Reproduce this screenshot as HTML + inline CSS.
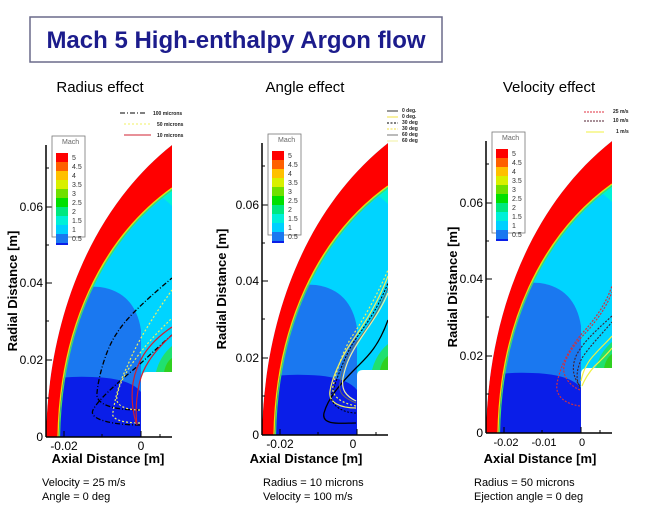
<!DOCTYPE html>
<html><head><meta charset="utf-8"><style>
body{margin:0;background:#fff;width:650px;height:527px;overflow:hidden;font-family:"Liberation Sans",sans-serif}
svg{position:absolute;left:0;top:0}
</style></head><body>
<svg width="650" height="527" viewBox="0 0 650 527" font-family="Liberation Sans, sans-serif">
<defs>
<clipPath id="pc"><rect x="46" y="145" width="126" height="292"/></clipPath>
<g id="field">
 <g clip-path="url(#pc)">
  <rect x="46" y="145" width="126" height="292" fill="#00d4ff"/>
  <path d="M155,192 Q166,200 172,206 L172,183 Z" fill="#00f0d8"/>
  <path d="M50,437 L50,290 Q65,285 100,287 Q135,292 141,330 L141,437 Z" fill="#1a78f0"/>
  <path d="M50,437 L50,380 Q65,376 92,377 Q130,378 141,392 L141,437 Z" fill="#0a1ee8"/>
  <path d="M156,372 Q160,356 172,346 L172,372 Z" fill="#20e070"/>
  <path d="M164,372 Q166,362 172,358 L172,372 Z" fill="#30d020"/>
  <path d="M46,437 C48,320 90,210 172,145 L172,188 C100,240 60,330 58,437 Z" fill="#ff0000"/>
  <path d="M58,437 C60,330 100,240 172,188" fill="none" stroke="#f0e000" stroke-width="1.3"/>
  <path d="M59.5,437 C61.5,331 101,241.5 172,190" fill="none" stroke="#40e060" stroke-width="1.2"/>
  <path d="M46,145 L172,145 C90,210 48,320 46,437 Z" fill="#fff"/>
  <path d="M141,437 L141,378 Q141,372 147,372 L172,372 L172,437 Z" fill="#fff"/>
 </g>
 <line x1="46" y1="145" x2="46" y2="437" stroke="#000" stroke-width="1.5"/>
 <line x1="46" y1="437" x2="172" y2="437" stroke="#000" stroke-width="1.5"/>
 <g stroke="#000" stroke-width="1">
  <line x1="46" y1="360" x2="52" y2="360"/><line x1="46" y1="283" x2="52" y2="283"/><line x1="46" y1="207" x2="52" y2="207"/>
  <line x1="46" y1="398" x2="49" y2="398"/><line x1="46" y1="321" x2="49" y2="321"/><line x1="46" y1="245" x2="49" y2="245"/><line x1="46" y1="168" x2="49" y2="168"/>
  <line x1="64" y1="437" x2="64" y2="431"/><line x1="141" y1="437" x2="141" y2="431"/><line x1="102" y1="437" x2="102" y2="434"/><line x1="160" y1="437" x2="160" y2="434"/>
 </g>
 <rect x="52" y="136" width="33" height="101" fill="#fff" stroke="#777" stroke-width="0.8"/>
 <rect x="56" y="153" width="12" height="9" fill="#ff0000"/>
 <rect x="56" y="162" width="12" height="9" fill="#ff6000"/>
 <rect x="56" y="171" width="12" height="9" fill="#ffc000"/>
 <rect x="56" y="180" width="12" height="9" fill="#d8f000"/>
 <rect x="56" y="189" width="12" height="9" fill="#70e000"/>
 <rect x="56" y="198" width="12" height="9" fill="#00e000"/>
 <rect x="56" y="207" width="12" height="9" fill="#00e880"/>
 <rect x="56" y="216" width="12" height="9" fill="#00f0d8"/>
 <rect x="56" y="225" width="12" height="9" fill="#00d0ff"/>
 <rect x="56" y="234" width="12" height="9" fill="#1a78f0"/>
 <rect x="56" y="243" width="12" height="2" fill="#0a1ee8"/>
</g>
</defs>

<rect x="30" y="17" width="412" height="45" fill="#fff" stroke="#6a6a8a" stroke-width="1.5"/>
<text x="236" y="48" text-anchor="middle" font-size="24" font-weight="bold" fill="#1c1c8c">Mach 5 High-enthalpy Argon flow</text>
<text x="100" y="92" text-anchor="middle" font-size="15">Radius effect</text>
<text x="305" y="92" text-anchor="middle" font-size="15">Angle effect</text>
<text x="549" y="92" text-anchor="middle" font-size="15">Velocity effect</text>

<!-- Panel 1 -->
<g>
 <use href="#field"/>
 <g font-size="7" fill="#333"><text x="62" y="144" fill="#666">Mach</text>
 <text x="72" y="160">5</text><text x="72" y="169">4.5</text><text x="72" y="178">4</text><text x="72" y="187">3.5</text><text x="72" y="196">3</text><text x="72" y="205">2.5</text><text x="72" y="214">2</text><text x="72" y="223">1.5</text><text x="72" y="232">1</text><text x="72" y="241">0.5</text></g>
 <g clip-path="url(#pc)" fill="none">
  <path d="M140,410 C115,410 95,405 97,393 C98,380 105,350 117,333 C125,320 140,305 172,278" stroke="#000" stroke-width="1.3" stroke-dasharray="5,2,1,2"/>
  <path d="M140,425 C115,425 88,420 93,410 C98,400 115,385 133,370 C145,360 160,345 172,335" stroke="#000" stroke-width="1.3" stroke-dasharray="5,2,1,2"/>
  <path d="M140,423 C125,423 110,420 113,412 C115,400 118,385 127,367 C132,355 140,335 172,290" stroke="#f0f060" stroke-width="1.2" stroke-dasharray="2,2"/>
  <path d="M140,410 C125,410 115,405 117,397 C119,385 123,375 140,353 C150,340 160,330 172,318" stroke="#f0f060" stroke-width="1.2" stroke-dasharray="2,2"/>
  <path d="M136,423 C131,405 132,390 133,383 C136,365 145,345 172,327" stroke="#d02030" stroke-width="1.2"/>
  <path d="M137,425 C135,410 137,395 139,385 C142,370 150,355 172,335" stroke="#d02030" stroke-width="1.2"/>
 </g>
 <g font-size="12" fill="#000"><text x="43" y="211" text-anchor="end">0.06</text><text x="43" y="287" text-anchor="end">0.04</text><text x="43" y="364" text-anchor="end">0.02</text><text x="43" y="441" text-anchor="end">0</text>
 <text x="64" y="450" text-anchor="middle">-0.02</text><text x="141" y="450" text-anchor="middle">0</text></g>
 <text x="108" y="463" text-anchor="middle" font-size="13" font-weight="bold">Axial Distance [m]</text>
 <text transform="translate(17,291) rotate(-90)" text-anchor="middle" font-size="13" font-weight="bold">Radial Distance [m]</text>
 <g font-size="5" font-weight="bold" fill="#222">
  <line x1="120" y1="113" x2="147" y2="113" stroke="#000" stroke-dasharray="5,2,1,2"/><text x="153" y="115">100 microns</text>
  <line x1="124" y1="124" x2="151" y2="124" stroke="#f0f060" stroke-dasharray="2,2"/><text x="157" y="126">50 microns</text>
  <line x1="124" y1="135" x2="151" y2="135" stroke="#d02030"/><text x="157" y="137">10 microns</text>
 </g>
 <text x="42" y="486" font-size="11">Velocity = 25 m/s</text>
 <text x="42" y="500" font-size="11">Angle = 0 deg</text>
</g>

<!-- Panel 2 -->
<g transform="translate(216,-2)">
 <use href="#field"/>
 <g font-size="7" fill="#333"><text x="62" y="144" fill="#666">Mach</text>
 <text x="72" y="160">5</text><text x="72" y="169">4.5</text><text x="72" y="178">4</text><text x="72" y="187">3.5</text><text x="72" y="196">3</text><text x="72" y="205">2.5</text><text x="72" y="214">2</text><text x="72" y="223">1.5</text><text x="72" y="232">1</text><text x="72" y="241">0.5</text></g>
 <g clip-path="url(#pc)" fill="none">
  <path d="M140,425 C125,425 105,428 108,415 C112,400 125,385 140,370 C150,360 162,350 172,322" stroke="#000" stroke-width="1.3"/>
  <path d="M140,410 C125,410 112,405 114,393 C116,380 125,360 135,345 C145,330 160,310 172,278" stroke="#f0f060" stroke-width="1.2"/>
  <path d="M140,415 C125,415 112,405 116,395 C120,383 128,360 137,345 C147,330 160,315 172,285" stroke="#000" stroke-width="1" stroke-dasharray="2,1.5"/>
  <path d="M140,408 C125,405 115,398 117,388 C120,375 126,355 135,340 C145,325 160,300 172,272" stroke="#f0f060" stroke-width="1.2" stroke-dasharray="2,2"/>
  <path d="M140,405 C128,400 122,395 124,385 C126,370 132,355 140,345 C150,332 162,315 172,290" stroke="#666" stroke-width="1"/>
  <path d="M140,403 C130,398 125,392 127,380 C130,365 135,355 145,340 C155,325 165,312 172,295" stroke="#f0f0a0" stroke-width="1.2"/>
 </g>
 <g font-size="12" fill="#000"><text x="43" y="211" text-anchor="end">0.06</text><text x="43" y="287" text-anchor="end">0.04</text><text x="43" y="364" text-anchor="end">0.02</text><text x="43" y="441" text-anchor="end">0</text>
 <text x="64" y="450" text-anchor="middle">-0.02</text><text x="137" y="450" text-anchor="middle">0</text></g>
 <text x="90" y="465" text-anchor="middle" font-size="13" font-weight="bold">Axial Distance [m]</text>
 <text transform="translate(10,291) rotate(-90)" text-anchor="middle" font-size="13" font-weight="bold">Radial Distance [m]</text>
 <g font-size="5" font-weight="bold" fill="#222">
  <line x1="171" y1="113" x2="182" y2="113" stroke="#333"/><text x="186" y="114">0 deg.</text>
  <line x1="171" y1="119" x2="182" y2="119" stroke="#f0e040"/><text x="186" y="120">0 deg.</text>
  <line x1="171" y1="125" x2="182" y2="125" stroke="#000" stroke-dasharray="2,1.5"/><text x="186" y="126">30 deg</text>
  <line x1="171" y1="131" x2="182" y2="131" stroke="#f0e040" stroke-dasharray="2,1.5"/><text x="186" y="132">30 deg</text>
  <line x1="171" y1="137" x2="182" y2="137" stroke="#777"/><text x="186" y="138">60 deg</text>
  <line x1="171" y1="143" x2="182" y2="143" stroke="#f0f0a0"/><text x="186" y="144">60 deg</text>
 </g>
 <text x="47" y="488" font-size="11">Radius = 10 microns</text>
 <text x="47" y="502" font-size="11">Velocity = 100 m/s</text>
</g>

<!-- Panel 3 -->
<g transform="translate(440,-4)">
 <use href="#field"/>
 <g font-size="7" fill="#333"><text x="62" y="144" fill="#666">Mach</text>
 <text x="72" y="160">5</text><text x="72" y="169">4.5</text><text x="72" y="178">4</text><text x="72" y="187">3.5</text><text x="72" y="196">3</text><text x="72" y="205">2.5</text><text x="72" y="214">2</text><text x="72" y="223">1.5</text><text x="72" y="232">1</text><text x="72" y="241">0.5</text></g>
 <g clip-path="url(#pc)" fill="none">
  <path d="M140,410 C125,408 115,400 117,388 C120,370 130,350 147,332 C155,322 165,310 172,290" stroke="#d03040" stroke-width="1.2" stroke-dasharray="2,1.5"/>
  <path d="M140,394 C130,390 122,380 124,370 C128,355 138,345 150,332 C158,322 166,312 172,296" stroke="#d03040" stroke-width="1.2" stroke-dasharray="2,1.5"/>
  <path d="M140,390 C132,380 132,370 136,360 C142,348 152,338 172,320" stroke="#402030" stroke-width="1.1" stroke-dasharray="2,1.5"/>
  <path d="M140,392 C135,382 137,372 142,362 C150,350 160,340 172,326" stroke="#402030" stroke-width="1.1" stroke-dasharray="2,1.5"/>
  <path d="M141,385 C143,375 148,365 155,358 C162,350 168,345 172,340" stroke="#f0f040" stroke-width="1.2"/>
  <path d="M142,390 C146,380 152,372 160,365 C165,360 170,355 172,352" stroke="#f0f040" stroke-width="1.2"/>
 </g>
 <g font-size="12" fill="#000"><text x="43" y="211" text-anchor="end">0.06</text><text x="43" y="287" text-anchor="end">0.04</text><text x="43" y="364" text-anchor="end">0.02</text><text x="43" y="441" text-anchor="end">0</text></g>
 <g font-size="11" fill="#000"><text x="66" y="450" text-anchor="middle">-0.02</text><text x="104" y="450" text-anchor="middle">-0.01</text><text x="142" y="450" text-anchor="middle">0</text></g>
 <text x="100" y="467" text-anchor="middle" font-size="13" font-weight="bold">Axial Distance [m]</text>
 <text transform="translate(17,291) rotate(-90)" text-anchor="middle" font-size="13" font-weight="bold">Radial Distance [m]</text>
 <g font-size="5" font-weight="bold" fill="#222">
  <line x1="144" y1="116" x2="164" y2="116" stroke="#e03040" stroke-dasharray="2,1"/><text x="173" y="117">25 m/s</text>
  <line x1="144" y1="125" x2="164" y2="125" stroke="#502030" stroke-dasharray="2,1"/><text x="173" y="126">10 m/s</text>
  <line x1="146" y1="136" x2="164" y2="136" stroke="#f0f040"/><text x="176" y="137">1 m/s</text>
 </g>
 <text x="34" y="490" font-size="11">Radius = 50 microns</text>
 <text x="34" y="504" font-size="11">Ejection angle = 0 deg</text>
</g>
</svg>
</body></html>
